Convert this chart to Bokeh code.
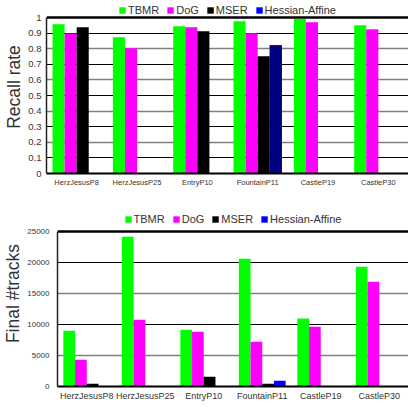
from bokeh.plotting import figure
from bokeh.models import (ColumnDataSource, FactorRange, Range1d, Legend, LegendItem,
                          Grid, FixedTicker, BasicTickFormatter)
from bokeh.transform import dodge
from bokeh.embed import file_html
from bokeh.resources import INLINE

categories = ["HerzJesusP8", "HerzJesusP25", "EntryP10", "FountainP11", "CastleP19", "CastleP30"]
series = ["TBMR", "DoG", "MSER", "Hessian-Affine"]

recall_tbmr = [0.957, 0.874, 0.944, 0.976, 0.990, 0.951]
recall_dog = [0.897, 0.803, 0.938, 0.899, 0.970, 0.925]
recall_mser = [0.938, None, 0.912, 0.752, None, None]
recall_hessian = [None, None, None, 0.822, None, None]

tracks_tbmr = [9000, 24150, 9150, 20600, 10950, 19300]
tracks_dog = [4300, 10750, 8820, 7200, 9630, 16880]
tracks_mser = [430, None, 1560, 430, None, None]
tracks_hessian = [None, None, None, 920, None, None]

recall_ticks = [0, 0.1, 0.2, 0.3, 0.4, 0.5, 0.6, 0.7, 0.8, 0.9, 1]
recall_black = [0.1, 0.3, 0.5, 0.7, 0.9]
recall_gray = [0.2, 0.4, 0.6, 0.8]
tracks_ticks = [0, 5000, 10000, 15000, 20000, 25000]
tracks_black = [10000, 20000]
tracks_gray = [5000, 15000]

FONT = "Liberation Sans"
TXT = "#333333"
offsets = [-0.3, -0.1, 0.1, 0.3]
legend_colors = ["#00ff00", "#ff00ff", "#000000", "#0000ff"]


def make_fig(height, ymax, ytop, ylabel, data, colors, ticks, black, gray,
             tick_font, xlab_font, tick_standoff, left_border, bottom_border, legend_margin):
    p = figure(x_range=FactorRange(factors=categories, range_padding=0, factor_padding=0),
               y_range=Range1d(0, ytop), width=408, height=height,
               output_backend="svg", toolbar_location=None,
               min_border_left=left_border, min_border_right=0,
               min_border_top=0, min_border_bottom=bottom_border)
    p.outline_line_color = None
    p.xgrid.grid_line_color = None
    p.ygrid.grid_line_color = None
    p.add_layout(Grid(dimension=1, ticker=FixedTicker(ticks=black), grid_line_color="black",
                      grid_line_width=1.2))
    p.add_layout(Grid(dimension=1, ticker=FixedTicker(ticks=gray), grid_line_color="#7f7f7f",
                      grid_line_width=1.6))
    p.add_layout(Grid(dimension=1, ticker=FixedTicker(ticks=[ymax]), grid_line_color="black",
                      grid_line_width=2.5))
    items = []
    for name, vals, off, col, lcol in zip(series, data, offsets, colors, legend_colors):
        xs = [c for c, v in zip(categories, vals) if v is not None]
        ys = [v for v in vals if v is not None]
        src = ColumnDataSource(dict(cat=xs, val=ys))
        leg_r = None
        if lcol != col:
            # legend swatch colour differs from the bar colour: draw an underlying copy
            leg_r = p.vbar(x=dodge("cat", off, range=p.x_range), top="val", width=0.2,
                           source=src, fill_color=lcol, line_color=None)
        r = p.vbar(x=dodge("cat", off, range=p.x_range), top="val", width=0.2, source=src,
                   fill_color=col, line_color=None)
        items.append(LegendItem(label=name, renderers=[leg_r if leg_r is not None else r]))
    legend = Legend(items=items, orientation="horizontal", location="top_center",
                    label_text_font=FONT, label_text_font_size="11px", label_text_color=TXT,
                    glyph_width=8, glyph_height=8, label_height=12, label_standoff=2,
                    spacing=7, padding=0, margin=legend_margin, border_line_color=None,
                    background_fill_alpha=0)
    p.add_layout(legend)

    p.yaxis.ticker = FixedTicker(ticks=ticks)
    p.yaxis.bounds = (0, ymax)
    p.yaxis.axis_label = ylabel
    p.yaxis.axis_label_text_font = FONT
    p.yaxis.axis_label_text_font_size = "17.5px"
    p.yaxis.axis_label_text_font_style = "normal"
    p.yaxis.axis_label_text_color = TXT
    p.yaxis.axis_label_standoff = 1
    p.yaxis.major_label_text_font = FONT
    p.yaxis.major_label_text_font_size = tick_font
    p.yaxis.major_label_text_color = TXT
    p.yaxis.major_label_standoff = tick_standoff
    p.yaxis.major_tick_line_color = None
    p.yaxis.major_tick_out = 0
    p.yaxis.major_tick_in = 0
    p.yaxis.minor_tick_line_color = None
    p.yaxis.minor_tick_out = 0
    p.yaxis.axis_line_color = "#222222"
    p.yaxis.axis_line_width = 1.5

    p.xaxis.major_label_text_font = FONT
    p.xaxis.major_label_text_font_size = xlab_font
    p.xaxis.major_label_text_color = TXT
    p.xaxis.major_label_standoff = 4
    p.xaxis.major_tick_line_color = None
    p.xaxis.major_tick_out = 0
    p.xaxis.major_tick_in = 0
    p.xaxis.axis_line_color = "black"
    p.xaxis.axis_line_width = 2
    return p


p1 = make_fig(200, 1, 1.109, "Recall rate",
              [recall_tbmr, recall_dog, recall_mser, recall_hessian],
              ["#00ff00", "#ff00ff", "#000000", "#000080"],
              recall_ticks, recall_black, recall_gray, "9.5px", "7.5px", 5, 46, 27, 4)
p1.yaxis.major_label_overrides = {0: "0", 1: "1"}

p2 = make_fig(207, 25000, 30000, "Final #tracks",
              [tracks_tbmr, tracks_dog, tracks_mser, tracks_hessian],
              ["#00ff00", "#ff00ff", "#000000", "#0000ff"],
              tracks_ticks, tracks_black, tracks_gray, "8px", "9px", 8, 57, 21, 13)
p2.yaxis.formatter = BasicTickFormatter(use_scientific=False)

open("out.html", "w").write(file_html([p1, p2], INLINE))
